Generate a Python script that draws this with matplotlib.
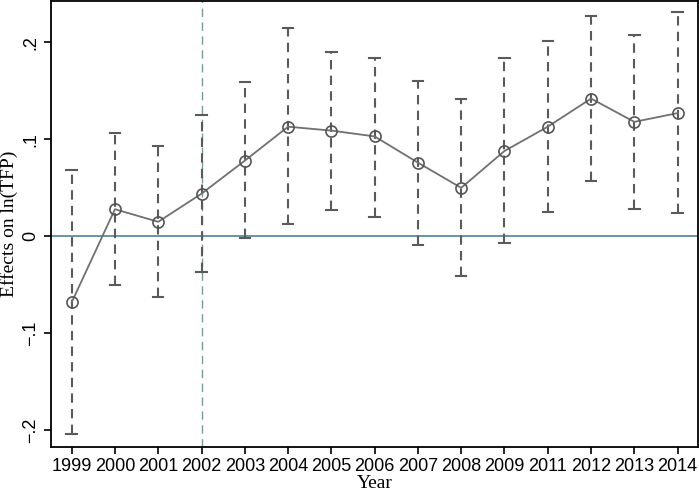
import matplotlib
matplotlib.use("Agg")
import matplotlib.pyplot as plt
import numpy as np

years = ["1999", "2000", "2001", "2002", "2003", "2004", "2005", "2006",
         "2007", "2008", "2009", "2011", "2012", "2013", "2014"]
coef = [-0.068, 0.028, 0.015, 0.044, 0.078, 0.113, 0.109, 0.103,
        0.076, 0.050, 0.088, 0.113, 0.142, 0.118, 0.127]
ci_hi = [0.068, 0.107, 0.093, 0.125, 0.159, 0.215, 0.190, 0.184,
         0.160, 0.142, 0.184, 0.201, 0.227, 0.208, 0.231]
ci_lo = [-0.204, -0.050, -0.062, -0.037, -0.002, 0.013, 0.027, 0.020,
         -0.009, -0.041, -0.007, 0.025, 0.057, 0.028, 0.024]
yticks = [-0.2, -0.1, 0, 0.1, 0.2]
ytick_labels = ["\u2212.2", "\u2212.1", "0", ".1", ".2"]

fig = plt.figure(figsize=(6.99, 4.92), dpi=100)
ax = fig.add_axes([0.0725, 0.0915, 0.926, 0.907])

x = np.arange(len(years))
ecol = "#5a5a5a"
for xi, lo, hi in zip(x, ci_lo, ci_hi):
    ax.plot([xi, xi], [lo, hi], color=ecol, lw=1.5, ls=(0, (4.5, 3)), zorder=2)
    ax.plot([xi - 0.12, xi + 0.12], [hi, hi], color=ecol, lw=1.5, zorder=2)
    ax.plot([xi - 0.12, xi + 0.12], [lo, lo], color=ecol, lw=1.5, zorder=2)

ax.axhline(0, color="#4e8197", lw=1.2, zorder=1)
ax.axvline(years.index("2002"), color="#7a9a9a", lw=1.0, ls=(0, (6, 4)), zorder=1)

ax.plot(x, coef, color="#707070", lw=1.3, marker="o", ms=8, mfc="none",
        mec="#555555", mew=1.2, zorder=3)

ax.set_xlim(-0.485, 14.47)
ax.set_ylim(-0.217, 0.2428)
ax.set_xticks(x)
ax.set_xticklabels(years, fontfamily="Liberation Sans", fontsize=13)
ax.set_yticks(yticks)
ax.set_yticklabels(ytick_labels, fontfamily="Liberation Sans", fontsize=13,
                   rotation=90, va="center")
ax.tick_params(direction="out", length=5, width=1.2, color="#000000", pad=3)
for s in ax.spines.values():
    s.set_linewidth(1.3)
ax.set_xlabel("Year", fontfamily="Liberation Serif", fontsize=14, labelpad=0)
ax.set_ylabel("Effects on ln(TFP)", fontfamily="Liberation Serif", fontsize=14, labelpad=3)

fig.savefig("out.png", dpi=100)
